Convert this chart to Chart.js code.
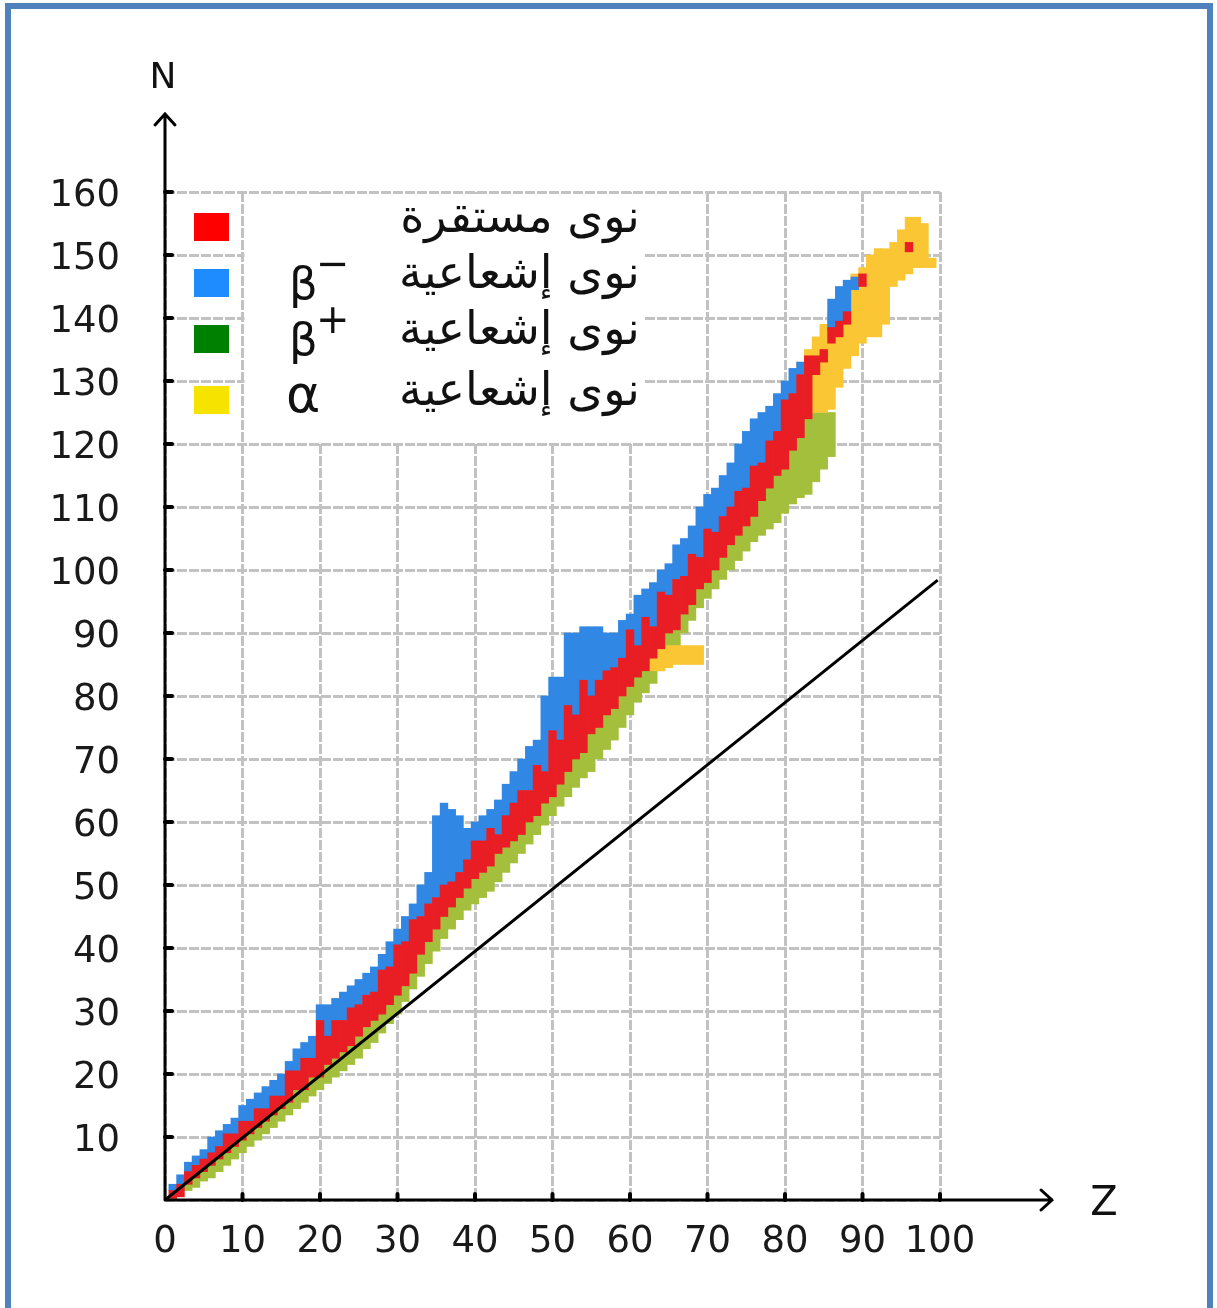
<!DOCTYPE html>
<html>
<head>
<meta charset="utf-8">
<script src="https://cdn.jsdelivr.net/npm/chart.js@4.4.1/dist/chart.umd.min.js"></script>
<style>
html, body { margin: 0; padding: 0; background: #fff; }
#wrap { position: relative; width: 1217px; height: 1308px; overflow: hidden; }
#frame { position: absolute; left: 5px; top: 3px; width: 1196px; height: 1330px; border: 6px solid #4f81bd; pointer-events: none; }
canvas { position: absolute; left: 0; top: 0; }
</style>
</head>
<body>
<div id="wrap">
  <canvas id="chartNuclides" width="1217" height="1308"></canvas>
  <div id="frame"></div>
</div>
<script>
// proton number Z of each column
var zValues = [1,2,3,4,5,6,7,8,9,10,11,12,13,14,15,16,17,18,19,20,
	21,22,23,24,25,26,27,28,29,30,31,32,33,34,35,36,37,38,39,40,
	41,42,43,44,45,46,47,48,49,50,51,52,53,54,55,56,57,58,59,60,
	61,62,63,64,65,66,67,68,69,70,71,72,73,74,75,76,77,78,79,80,
	81,82,83,84,85,86,87,88,89,90,91,92,93,94,95,96,97,98,99];

// stable nuclei (red), N range per Z
var stableLo = [0,0.5,2.5,3.5,4.5,5.5,6.5,7.5,8.5,9.5,10.5,11.5,12.5,13.5,14.5,15.5,17.5,17.5,19.5,19.5,
	21.5,22.5,23.5,24.5,26,27.5,28.5,29.5,31,32.5,34,36,39,41,43,45,46.5,48,49.5,51,
	52,53,55,56,57,58,60,61,63,64,66,68,70,71,74,75,77,78,80,81.5,
	83,84,86,87.5,90,90.5,93,94.5,97,98,100,102,104,105.5,107,108.5,111,113,115,116,
	119,121,124,131,133,136,137,139,null,145,null,null,null,null,null,150.5,null,null,null];
var stableHi = [1.5,2.5,4.5,5.5,6.5,7.5,8.5,10.5,10.5,12.5,12.5,14.5,14.5,16.5,16.5,20.5,20.5,22.5,22.5,28.5,
	26,28.5,28.5,30.5,31,32.5,33,36.5,37,40.5,41,44.5,45,47,48,50,50.5,52,54,57,
	57,59,58,61,63,65,65,69,68,74.5,73,78.5,77,82.5,80,82.5,84,84.5,86,90.5,
	88,92.5,91,96.5,96,98.5,99,102.5,102,106.5,106,108.5,110,112.5,113,116.5,117,120.5,122,127,
	128,131,134,134,135,138.5,139.5,141,null,147,null,null,null,null,null,152,null,null,null];

// beta- emitters (blue)
var betaMinusLo = [1.5,2.5,4.5,5.5,6.5,7.5,8.5,10.5,10.5,12.5,12.5,14.5,14.5,16.5,16.5,20.5,20.5,22.5,22.5,28.5,
	26,28.5,28.5,30.5,31,32.5,33,36.5,37,40.5,41,44.5,45,47,48,50,50.5,52,54,57,
	57,59,58,61,63,65,65,69,68,74.5,73,78.5,77,82.5,80,82.5,84,84.5,86,90.5,
	88,92.5,91,96.5,96,98.5,99,102.5,102,106.5,106,108.5,110,112.5,113,116.5,117,120.5,122,127,
	128,131,null,null,null,138,139.5,141,144.5,null,null,null,null,null,null,null,null,null,null];
var betaMinusHi = [2.5,4,6,7,8,10,11,12,13,15,16,17,18,19,20,22,24,25,26,31,
	31,32,33,34,35,36,37,39,41,43,45,47,50,52,61,63,62,61,59,60,
	61,62,63.5,66,68,70,72,73,80,83,83,90,90,91,91,91,90,90,92,93,
	96,97,98,100,101,104,105,107,110,112,113,115,117,120,122,124,125,126,128,130,
	132,133,null,null,null,143,145,146,146.5,null,null,null,null,null,null,null,null,null,null];

// beta+ emitters (green)
var betaPlusLo = [null,null,1.5,2,3,3.5,4.5,5.5,6.5,7.5,8.5,9.5,10.5,11.5,12.5,13.5,14.5,15.5,16.5,17.5,
	18.5,19.5,20.5,21.5,22.5,24,25,26.5,28,29.5,31.5,33.5,35.5,37.5,39.5,41.5,43,44.5,46,47,
	48,49,50.5,52,53.5,55,56.5,58,59.5,61,62.5,64,65.5,67,68,70,71.5,73,75,77,
	79,80.5,82,84,86,88,90,92,94,95.5,97,98.5,100,101.5,103,104.5,105.5,106.5,107.5,109,
	110.5,111.5,112,114,116,118,null,null,null,null,null,null,null,null,null,null,null,null,null];
var betaPlusHi = [null,null,2.5,3.5,4.5,5.5,6.5,7.5,8.5,9.5,10.5,11.5,12.5,13.5,14.5,15.5,17.5,17.5,19.5,19.5,
	21.5,22.5,23.5,24.5,26,27.5,28.5,29.5,31,32.5,34,36,39,41,43,45,46.5,48,49.5,51,
	52,53,55,56,57,58,60,61,63,64,66,68,70,71,74,75,77,78,80,81.5,
	83,84,86,87.5,90,90.5,93,94.5,97,98,100,102,104,105.5,107,108.5,111,113,115,116,
	125,125,125,125,125,125,null,null,null,null,null,null,null,null,null,null,null,null,null];

// alpha emitters (yellow)
var alphaLo = [null,null,null,null,null,null,null,null,null,null,null,null,null,null,null,null,null,null,null,null,
	null,null,null,null,null,null,null,null,null,null,null,null,null,null,null,null,null,null,null,null,
	null,null,null,null,null,null,null,null,null,null,null,null,null,null,null,null,null,null,null,null,
	null,null,84,84,84.5,85,85,85,85,null,null,null,null,null,null,null,null,null,null,125,
	125,125,125,125,125,125.5,129,132,134,136,137,137,139,145,146,147,148,148,148];
var alphaHi = [null,null,null,null,null,null,null,null,null,null,null,null,null,null,null,null,null,null,null,null,
	null,null,null,null,null,null,null,null,null,null,null,null,null,null,null,null,null,null,null,null,
	null,null,null,null,null,null,null,null,null,null,null,null,null,null,null,null,null,null,null,null,
	null,null,87,87.5,88,88,88,88,88,null,null,null,null,null,null,null,null,null,null,127,
	130,133,135,137,139,141,142,144,147,148,150,151,151,152,154,156,156,155,149.5];

// the N = Z reference line
var lineZ = [0, 99.7];
var lineN = [0, 98.4];

var legendLabels = ['نوى مستقرة', 'نوى إشعاعية', 'نوى إشعاعية', 'نوى إشعاعية'];
var legendSymbols = ['', 'β', 'β', 'α'];
var legendSups = ['', '−', '+', ''];
var legendColors = ['#ff0000', '#1e8cff', '#008000', '#f6e400'];

function ranges(lo, hi) {
	var out = [];
	for (var i = 0; i < zValues.length; i++) {
		if (lo[i] === null || hi[i] === null) continue;
		out.push({ x: zValues[i], y: [lo[i], hi[i]] });
	}
	return out;
}

var barCommon = {
	grouped: false,
	barPercentage: 1,
	categoryPercentage: 1,
	borderWidth: 0,
	borderSkipped: false
};

var decor = {
	id: 'decor',
	afterDatasetsDraw: function (chart) {
		var ctx = chart.ctx;
		var x = chart.scales.x, y = chart.scales.y;
		var x0 = x.getPixelForValue(0), y0 = y.getPixelForValue(0);
		ctx.save();

		// legend box
		var l = x.getPixelForValue(10) + 2, r = x.getPixelForValue(61.9);
		var t = y.getPixelForValue(160) + 2, b = y.getPixelForValue(120) - 2;
		ctx.fillStyle = '#fff';
		ctx.fillRect(l, t, r - l, b - t);
		var rowsY = [227, 283, 339, 400];
		for (var i = 0; i < legendLabels.length; i++) {
			ctx.fillStyle = legendColors[i];
			ctx.fillRect(x0 + 29, rowsY[i] - 14, 35, 28);
			ctx.fillStyle = '#111';
			ctx.direction = 'rtl';
			ctx.textAlign = 'right';
			ctx.textBaseline = 'middle';
			ctx.font = '46px "DejaVu Sans"';
			ctx.fillText(legendLabels[i], r - 5, rowsY[i] - 7);
			ctx.direction = 'ltr';
			ctx.textAlign = 'left';
			ctx.textBaseline = 'alphabetic';
			if (legendSymbols[i] === 'α') {
				ctx.font = '52px "DejaVu Sans"';
				ctx.fillText(legendSymbols[i], x0 + 121, rowsY[i] + 12);
			} else if (legendSymbols[i]) {
				ctx.font = '45px "DejaVu Sans"';
				ctx.fillText(legendSymbols[i], x0 + 124, rowsY[i] + 16);
				ctx.font = '40px "DejaVu Sans"';
				ctx.fillText(legendSups[i], x0 + 151, rowsY[i] - 6);
			}
		}

		// axes with arrows
		ctx.strokeStyle = '#000';
		ctx.lineWidth = 3;
		ctx.lineCap = 'round';
		ctx.beginPath();
		ctx.moveTo(x0, y0); ctx.lineTo(x0, 114);
		ctx.moveTo(x0 - 10, 125); ctx.lineTo(x0, 114); ctx.lineTo(x0 + 10, 125);
		ctx.moveTo(x0, y0); ctx.lineTo(1052, y0);
		ctx.moveTo(1041, y0 - 10); ctx.lineTo(1052, y0); ctx.lineTo(1041, y0 + 10);
		ctx.stroke();

		// tick stubs
		ctx.lineWidth = 4;
		ctx.beginPath();
		y.ticks.forEach(function (tk) {
			if (tk.value === 0) return;
			var py = y.getPixelForValue(tk.value);
			ctx.moveTo(x0, py); ctx.lineTo(x0 + 7, py);
		});
		x.ticks.forEach(function (tk) {
			if (tk.value === 0) return;
			var px = x.getPixelForValue(tk.value);
			ctx.moveTo(px, y0); ctx.lineTo(px, y0 - 6);
		});
		ctx.stroke();

		// axis names
		ctx.fillStyle = '#111';
		ctx.textAlign = 'center';
		ctx.textBaseline = 'middle';
		ctx.font = '36px "DejaVu Sans"';
		ctx.fillText('N', x0 - 2, 79);
		ctx.font = '40px "DejaVu Sans"';
		ctx.fillText('Z', 1104, y0 + 5);
		ctx.restore();
	}
};

var tickFont = { family: 'DejaVu Sans', size: 37 };

var config = {
	type: 'bar',
	data: {
		datasets: [
			{
				type: 'line',
				data: lineZ.map(function (z, i) { return { x: z, y: lineN[i] }; }),
				borderColor: '#000',
				borderWidth: 3,
				pointRadius: 0,
				order: 0
			},
			Object.assign({ label: 'stable', data: ranges(stableLo, stableHi), backgroundColor: '#e91e24', order: 1 }, barCommon),
			Object.assign({ label: 'beta-', data: ranges(betaMinusLo, betaMinusHi), backgroundColor: '#3087e4', order: 2 }, barCommon),
			Object.assign({ label: 'alpha', data: ranges(alphaLo, alphaHi), backgroundColor: '#fbc634', order: 3 }, barCommon),
			Object.assign({ label: 'beta+', data: ranges(betaPlusLo, betaPlusHi), backgroundColor: '#a3bf3b', order: 4 }, barCommon)
		]
	},
	options: {
		responsive: false,
		animation: false,
		layout: { padding: { left: 0, top: 192, right: 277, bottom: 0 } },
		plugins: {
			legend: { display: false },
			tooltip: { enabled: false }
		},
		scales: {
			x: {
				type: 'linear',
				min: 0,
				max: 100,
				offset: false,
				grid: { color: '#c2c2c2', lineWidth: 3, drawTicks: false, offset: false },
				border: { display: false, dash: [10, 2] },
				ticks: { stepSize: 10, autoSkip: false, maxRotation: 0, padding: 20, color: '#1a1a1a', font: tickFont },
				afterFit: function (s) { s.height = 108; }
			},
			y: {
				type: 'linear',
				min: 0,
				max: 160,
				grid: { color: '#c2c2c2', lineWidth: 3, drawTicks: false },
				border: { display: false, dash: [10, 2] },
				ticks: {
					stepSize: 10,
					padding: 45,
					labelOffset: 4,
					color: '#1a1a1a',
					font: tickFont,
					callback: function (v) { return v === 0 ? '' : v; }
				},
				afterFit: function (s) { s.width = 165; }
			}
		}
	},
	plugins: [decor]
};

var ctxNuclides = document.getElementById('chartNuclides').getContext('2d');
window.chartNuclides = new Chart(ctxNuclides, config);
</script>
</body>
</html>
